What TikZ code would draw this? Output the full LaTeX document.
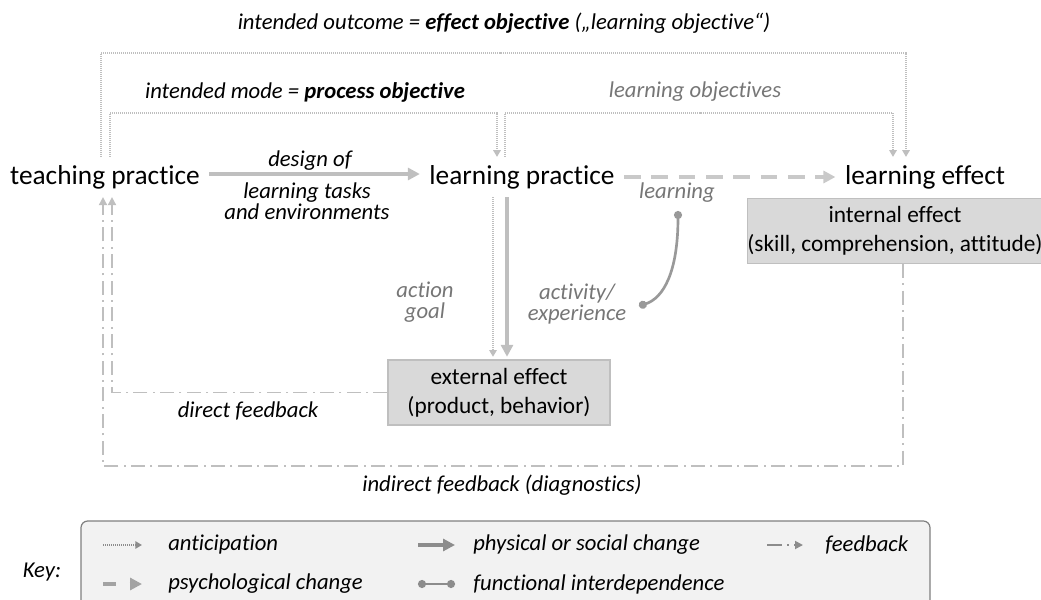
\documentclass[tikz,border=0pt]{standalone}
\usepackage{fontspec}
\setmainfont{Carlito}[Ligatures=CommonOff]
\usetikzlibrary{arrows.meta, positioning, calc}
\definecolor{arrgray}{RGB}{191,191,191}
\definecolor{labgray}{RGB}{118,118,118}
\definecolor{boxfill}{RGB}{217,217,217}
\definecolor{boxline}{RGB}{191,191,191}
\definecolor{keyfill}{RGB}{242,242,242}
\definecolor{keyline}{RGB}{127,127,127}
\definecolor{keygray}{RGB}{140,140,140}
\tikzset{
  practice/.style={font=\fontsize{20.5}{24}\selectfont, inner xsep=7pt, inner ysep=6pt},
  lbl/.style={font=\fontsize{17}{15.5}\selectfont\itshape, inner sep=0pt},
  glbl/.style={lbl, text=labgray},
  effbox/.style={draw=boxline, fill=boxfill, line width=0.8pt, align=center, font=\fontsize{17.5}{21.5}\selectfont, inner sep=0pt},
  antic/.style={draw=arrgray, line width=1.5pt, dash pattern=on 0.75pt off 0.75pt, -{Triangle[length=5pt,width=5.5pt]}},
  phys/.style={draw=arrgray, line width=3pt, -{Triangle[length=9pt,width=9pt]}},
  psych/.style={draw=arrgray!85, line width=3pt, dash pattern=on 12.5pt off 8pt, -{Triangle[length=9pt,width=9pt]}},
  fdbk/.style={draw=arrgray, line width=1.3pt, dash pattern=on 10.5pt off 4pt on 1.5pt off 4pt, -{Triangle[length=6pt,width=6pt]}},
  func/.style={draw=arrgray!80!black, line width=2pt, {Circle[length=6pt]}-{Circle[length=6pt]}},
}
\begin{document}
\begin{tikzpicture}[x=0.75pt, y=-0.75pt]
  \useasboundingbox (0,0) rectangle (1041,599);

  % the three practices
  \node[practice] (tp) at (105,177) {teaching practice};
  \node[practice] (lp) at (522,177) {learning practice};
  \node[practice] (le) at (925,177) {learning effect};

  \node[effbox, minimum width=166.5pt, minimum height=48.75pt] (ext) at (499,392.5) {external effect\\(product, behavior)};
  \node[effbox, minimum width=217.5pt, minimum height=48.75pt] (int) at (895,231) {internal effect\\(skill, comprehension,\ attitude)};

  % labels
  \node[lbl] (goal1) at (504,23) {intended outcome = \textbf{effect objective}\ („learning objective“)};
  \node[lbl] (goal2) at (305,92) {intended mode = \textbf{process objective}};
  \node[glbl] (goal3) at (695,92) {learning objectives};
  \node[lbl] (dsg) at (310,161) {design of};
  \node[lbl, align=center] (tasks) at (307,201) {learning tasks\\and environments};
  \node[glbl, align=center] (agoal) at (425,302) {action\\goal};
  \node[glbl] (lrn) at (677,193) {learning};
  \node[glbl, align=center] (actv) at (577,304) {activity/\\experience};
  \node[lbl] (dfb) at (248,411) {direct feedback};
  \node[lbl] (ifb) at (502,485) {indirect feedback (diagnostics)};

  \coordinate (top1) at (500,53);
  \coordinate (top2) at (300,113);
  \coordinate (top3) at (700,113);
  \coordinate (low) at (500,466);
  \coordinate (lrnA) at (678,211);
  \coordinate (lrnB) at (639,306);
  \coordinate (d1) at ($(lp.south)+(-29,0)$);
  \coordinate (d2) at ($(lp.south)+(-15,0)$);

  % anticipation
  \draw[antic] ($(tp.north)+(-4,0)$) |- (top1) -| ($(le.north)+(-19,0)$);
  \draw[antic] ($(tp.north)+(5,0)$) |- (top2) -| ($(lp.north)+(-25,0)$);
  \draw[antic] ($(lp.north)+(-17,0)$) |- (top3) -| ($(le.north)+(-32,0)$);
  \draw[antic, shorten >=2pt] (d1) -- (d1 |- ext.north);

  % change
  \draw[phys] ($(tp.east)+(0,-3)$) -- ($(lp.west)+(0,-3)$);
  \draw[phys, shorten >=2pt] (d2) -- (d2 |- ext.north);
  \draw[psych] (lp.east) -- (le.west);
  \draw[func] (lrnA) .. controls +(0,60) and +(25,-8) .. (lrnB);

  % feedback
  \draw[fdbk] (ext.west) -| ($(tp.south)+(7,0)$);
  \draw[fdbk] ($(int.south)+(8,0)$) |- (low) -| ($(tp.south)+(-2,0)$);

  % key
  \filldraw[draw=keyline, fill=keyfill, line width=0.9pt, rounded corners=5pt] (81,604) -- (81,521) -- (930,521) -- (930,604);
  \node[lbl] (key) at (42,572) {Key:};
  \node[lbl, anchor=west] (kant) at (168,545) {anticipation};
  \node[lbl, anchor=west] (kphy) at (473,545) {physical or social change};
  \node[lbl, anchor=west] (kfb) at (825,545) {feedback};
  \node[lbl, anchor=west] (kpsy) at (168,584) {psychological change};
  \node[lbl, anchor=west] (kfun) at (473,584) {functional interdependence};
  \draw[antic, draw=keygray] ($(kant.west)+(-65,0)$) -- ($(kant.west)+(-26,0)$);
  \draw[phys, draw=keygray] ($(kphy.west)+(-55,0)$) -- ($(kphy.west)+(-18,0)$);
  \draw[fdbk, draw=keygray, dash pattern=on 11pt off 4pt on 1.5pt off 4pt] ($(kfb.west)+(-58,0)$) -- ($(kfb.west)+(-22,0)$);
  \draw[psych, draw=keygray!80, dash pattern=on 10pt off 10pt] ($(kpsy.west)+(-65,0)$) -- ($(kpsy.west)+(-26,0)$);
  \draw[func, draw=keygray] ($(kfun.west)+(-55,0)$) -- ($(kfun.west)+(-18,0)$);
\end{tikzpicture}
\end{document}
